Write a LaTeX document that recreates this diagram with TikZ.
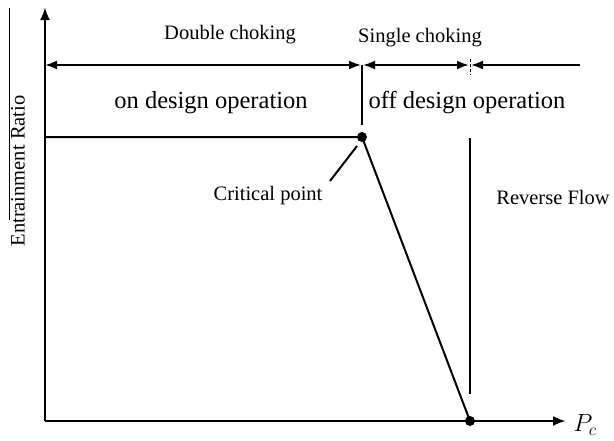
\documentclass[tikz,border=0pt]{standalone}
\usepackage{fontspec}
\setmainfont{Liberation Serif}
\usetikzlibrary{arrows.meta}
\begin{document}
\begin{tikzpicture}[x=1pt,y=-1pt,
  axis/.style={line width=2.6pt},
  thin/.style={line width=2pt},
  tip/.style={-{Latex[length=13pt,width=10pt]}},
  lbl/.style={font=\fontsize{20.5}{23}\selectfont, inner sep=0pt},
  biglbl/.style={font=\fontsize{24.5}{27}\selectfont, inner sep=0pt},
  dot/.style={circle, fill=black, inner sep=0pt, minimum size=10pt}]
\useasboundingbox (0,0) rectangle (614,440);
% axes
\coordinate (O) at (45,421);
\coordinate (ytop) at (45,7);
\coordinate (xend) at (566,421);
\draw[axis,tip] (O) -- (ytop);
\draw[axis,tip] (O) -- (xend);
\node[inner sep=0pt, font=\fontsize{25}{27}\selectfont] (pc) at (585,425) {$P_c$};
% left edge line
\coordinate (e1) at (9,8);
\coordinate (e2) at (9,220);
\draw[line width=1pt] (e1) -- (e2);
\node[lbl, rotate=90] (er) at (18,171) {Entrainment Ratio};
% top range line
\coordinate (t0) at (45,65);
\coordinate (t1) at (362,65);
\coordinate (t2) at (470,65);
\coordinate (t3) at (580,65);
\draw[thin,{Latex[length=12pt,width=9pt]}-{Latex[length=12pt,width=9pt]}] (t0) -- ([xshift=-1pt]t1);
\draw[thin,{Latex[length=12pt,width=9pt]}-{Latex[length=12pt,width=9pt]}] ([xshift=1pt]t1) -- ([xshift=-1pt]t2);
\draw[thin,{Latex[length=12pt,width=9pt]}-] ([xshift=1pt]t2) -- (t3);
\coordinate (tk1) at (470,59);
\coordinate (tk2) at (470,75);
\draw[line width=1pt, dash pattern=on 3pt off 2pt] (tk1) -- (tk2);
% curve
\node[dot] (cp) at (362,137) {};
\node[dot] (end) at (470,421) {};
\coordinate (p0) at (45,137);
\coordinate (v0) at (362,125);
\draw[thin] (p0) -- (cp.center) -- (end.center);
\draw[thin] (t1) -- (v0);
% reverse flow line
\coordinate (r1) at (470,138);
\coordinate (r2) at (470,394);
\draw[line width=1.4pt] (r1) -- (r2);
% leader
\coordinate (l1) at (330,181);
\coordinate (l2) at (357,146);
\draw[thin] (l1) -- (l2);
% labels
\node[lbl] (dc) at (230,35) {Double choking};
\node[lbl] (sc) at (420,38) {Single choking};
\node[biglbl] (on) at (211,103) {on design operation};
\node[biglbl] (off) at (467,103) {off design operation};
\node[lbl] (crit) at (268,196) {Critical point};
\node[lbl] (rev) at (553,197) {Reverse Flow};
\end{tikzpicture}
\end{document}
